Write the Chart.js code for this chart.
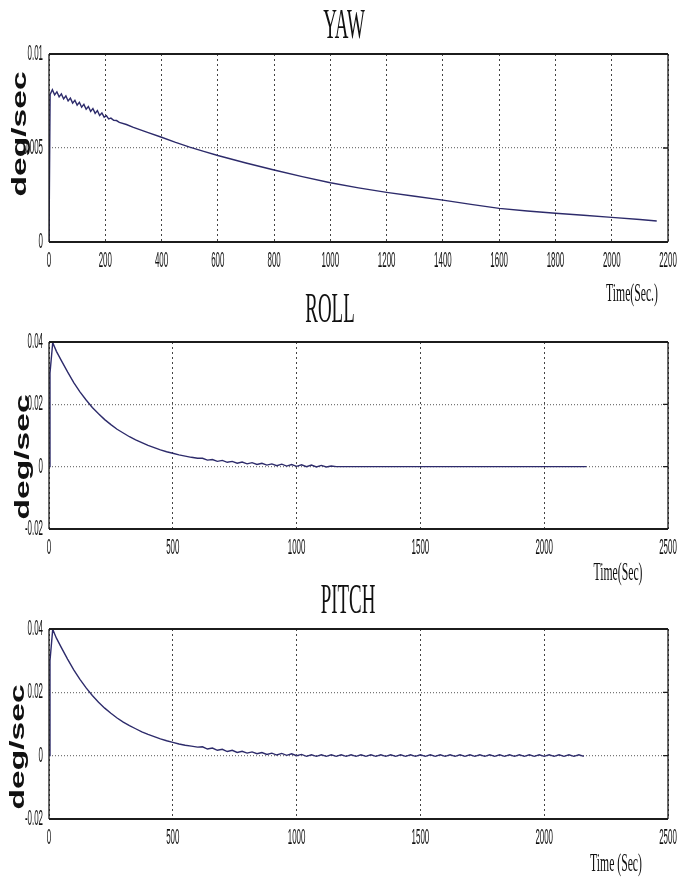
<!DOCTYPE html>
<html>
<head>
<meta charset="utf-8">
<title>YAW / ROLL / PITCH</title>
<script src="https://cdn.jsdelivr.net/npm/chart.js@4.4.1/dist/chart.umd.min.js"></script>
<style>
  body { margin: 0; background: #fff; }
  #wrap { position: relative; width: 678px; height: 879px; }
  #wrap canvas { position: absolute; left: 0; }
</style>
</head>
<body>
<div id="wrap">
  <canvas id="yaw" width="678" height="310" style="top:0px"></canvas>
  <canvas id="roll" width="678" height="300" style="top:290px"></canvas>
  <canvas id="pitch" width="678" height="299" style="top:580px"></canvas>
</div>
<script>
// YAW rate (deg/sec) against time (sec)
const yawTime = [0, 4, 12, 20, 28, 36, 44, 52, 60, 68, 76, 84, 92, 100, 108, 116, 124, 132, 140, 148,
  156, 164, 172, 180, 188, 196, 204, 212, 220, 230, 240, 250, 275, 300, 350, 400, 450, 500, 550, 600,
  700, 800, 900, 1000, 1100, 1200, 1300, 1400, 1500, 1600, 1700, 1800, 1900, 2000, 2100, 2160];
const yawRate = [0, 0.00785, 0.0081, 0.00783, 0.00799, 0.00772, 0.00788, 0.00761, 0.00777, 0.0075,
  0.00765, 0.00739, 0.00754, 0.00728, 0.00743, 0.00717, 0.00732, 0.00706, 0.00721, 0.00695,
  0.0071, 0.00684, 0.00699, 0.00673, 0.00686, 0.00664, 0.00672, 0.00655, 0.00659, 0.00647,
  0.00646, 0.00636, 0.00625, 0.0061, 0.00583, 0.00557, 0.0053, 0.00505, 0.00482, 0.0046,
  0.0042, 0.00383, 0.00348, 0.00315, 0.00288, 0.00264, 0.00243, 0.00223, 0.002, 0.00179,
  0.00165, 0.00153, 0.00142, 0.00131, 0.0012, 0.00112];

// ROLL
const rollTime = [0, 4, 15, 30, 50, 75, 100, 125, 150, 175, 200, 225, 250, 275, 300, 325, 350, 375, 400, 425,
  450, 475, 500, 525, 550, 575, 600, 620, 640, 660, 680, 700, 720, 740, 760, 780, 800, 820, 840, 860,
  880, 900, 920, 940, 960, 980, 1000, 1020, 1040, 1060, 1080, 1100, 1120, 1140, 1160, 1200, 2170];
const rollRate = [0, 0.03, 0.0398, 0.037, 0.034, 0.0304, 0.027, 0.024, 0.0214, 0.019,
  0.017, 0.0151, 0.0135, 0.012, 0.0108, 0.0096, 0.0086, 0.0077, 0.0068, 0.0061,
  0.0054, 0.0048, 0.0043, 0.0038, 0.0034, 0.003, 0.0027, 0.0027, 0.0021, 0.0023,
  0.0017, 0.002, 0.0014, 0.0017, 0.0011, 0.0015, 0.0009, 0.0013, 0.0007, 0.0011,
  0.0005, 0.0009, 0.0003, 0.0008, 0.0002, 0.0007, 0.0001, 0.0006, 0, 0.0005,
  -0.0001, 0.0004, -0.0001, 0.0002, 0, 0, 0];

// PITCH
const pitchTime = [0, 4, 15, 30, 50, 75, 100, 125, 150, 175, 200, 225, 250, 275, 300, 325, 350, 375, 400, 425,
  450, 475, 500, 525, 550, 575, 600, 620, 640, 660, 680, 700, 720, 740, 760, 780, 800, 820, 840, 860,
  880, 900, 920, 940, 960, 980, 1000, 1020,
  1040, 1060, 1080, 1100, 1120, 1140, 1160, 1180, 1200, 1220,
  1240, 1260, 1280, 1300, 1320, 1340, 1360, 1380, 1400, 1420,
  1440, 1460, 1480, 1500, 1520, 1540, 1560, 1580, 1600, 1620,
  1640, 1660, 1680, 1700, 1720, 1740, 1760, 1780, 1800, 1820,
  1840, 1860, 1880, 1900, 1920, 1940, 1960, 1980, 2000, 2020,
  2040, 2060, 2080, 2100, 2120, 2140, 2160];
const pitchRate = [0, 0.03, 0.0399, 0.0371, 0.0341, 0.0305, 0.0271, 0.0241, 0.0214, 0.019,
  0.0169, 0.015, 0.0134, 0.0119, 0.0106, 0.0095, 0.0085, 0.0075, 0.0067, 0.006,
  0.0053, 0.0047, 0.0042, 0.0037, 0.0033, 0.003, 0.0027, 0.0028, 0.0021, 0.0024,
  0.0017, 0.002, 0.0013, 0.0017, 0.001, 0.0014, 0.0008, 0.0012, 0.0006, 0.001,
  0.0004, 0.0008, 0.0002, 0.0007, 0.0001, 0.0006, 0, 0.0004,
  -0.0002, 0.0003, -0.0002, 0.0003, -0.0002, 0.0003, -0.0002, 0.0003, -0.0002, 0.0003,
  -0.0002, 0.0003, -0.0002, 0.0003, -0.0002, 0.0003, -0.0002, 0.0003, -0.0002, 0.0003,
  -0.0002, 0.0003, -0.0002, 0.0003, -0.0002, 0.0003, -0.0002, 0.0003, -0.0002, 0.0003,
  -0.0002, 0.0003, -0.0002, 0.0003, -0.0002, 0.0003, -0.0002, 0.0003, -0.0002, 0.0003,
  -0.0002, 0.0003, -0.0002, 0.0003, -0.0002, 0.0003, -0.0002, 0.0003, -0.0002, 0.0003,
  -0.0002, 0.0003, -0.0002, 0.0003, -0.0002, 0.0003, -0.0002];

// tick values
const yawXTicks = [0, 200, 400, 600, 800, 1000, 1200, 1400, 1600, 1800, 2000, 2200];
const yawYTicks = [0, 0.005, 0.01];
const attXTicks = [0, 500, 1000, 1500, 2000, 2500];
const attYTicks = [-0.02, 0, 0.02, 0.04];

const lineColor = "#2d2b6b";

// draws text squeezed/stretched like the scanned figure
function squishText(ctx, text, x, y, font, sx, align, baseline, angle) {
  ctx.save();
  ctx.translate(x, y);
  if (angle) ctx.rotate(angle);
  ctx.scale(sx, 1);
  ctx.font = font;
  ctx.fillStyle = "#111";
  ctx.textAlign = align;
  ctx.textBaseline = baseline;
  ctx.fillText(text, 0, 0);
  ctx.restore();
}

const framePlugin = {
  id: "frame",
  afterDraw(chart, args, o) {
    const { ctx, chartArea: a, scales } = chart;
    ctx.save();
    ctx.strokeStyle = "#1c1c1c";
    ctx.lineWidth = 2;
    ctx.beginPath();
    ctx.moveTo(a.left, a.top); ctx.lineTo(a.right, a.top);
    ctx.moveTo(a.left, a.bottom); ctx.lineTo(a.right, a.bottom);
    ctx.stroke();
    ctx.lineWidth = 1.3;
    ctx.beginPath();
    ctx.moveTo(a.left, a.top); ctx.lineTo(a.left, a.bottom);
    ctx.moveTo(a.right, a.top); ctx.lineTo(a.right, a.bottom);
    // small inside ticks on the right edge
    scales.y.ticks.forEach((t) => {
      const py = scales.y.getPixelForValue(t.value);
      ctx.moveTo(a.right - 5, py); ctx.lineTo(a.right, py);
    });
    ctx.stroke();
    ctx.restore();

    const tickFont = '22px "Liberation Sans", Arial, sans-serif';
    scales.x.ticks.forEach((t) => {
      squishText(ctx, t.label, scales.x.getPixelForValue(t.value), a.bottom + 19, tickFont, 0.36, "center", "middle");
    });
    scales.y.ticks.forEach((t) => {
      squishText(ctx, t.label, a.left - 6, scales.y.getPixelForValue(t.value), tickFont, 0.36, "right", "middle");
    });

    squishText(ctx, o.title, o.titleX, o.titleY, '42px "Liberation Serif", "Times New Roman", serif', 0.45, "center", "alphabetic");
    squishText(ctx, o.xTitle, o.xTitleX, o.xTitleY, '26px "Liberation Serif", "Times New Roman", serif', 0.45, "center", "alphabetic");
    squishText(ctx, "deg/sec", o.yTitleX, o.yTitleY, 'bold 21px "Liberation Sans", Arial, sans-serif', 1.6, "center", "middle", -Math.PI / 2);
  }
};

function makeChart(id, time, rate, xTicks, yTicks, look) {
  const points = time.map((t, i) => ({ x: t, y: rate[i] }));
  return new Chart(document.getElementById(id), {
    type: "line",
    data: {
      datasets: [{
        data: points,
        borderColor: lineColor,
        borderWidth: 1.4,
        pointRadius: 0,
        tension: 0,
        fill: false
      }]
    },
    options: {
      responsive: false,
      animation: false,
      events: [],
      layout: { padding: { top: look.top, right: 10, left: 0, bottom: 0 } },
      plugins: {
        legend: { display: false },
        tooltip: { enabled: false },
        frame: look
      },
      scales: {
        x: {
          type: "linear",
          min: xTicks[0],
          max: xTicks[xTicks.length - 1],
          afterBuildTicks: (s) => { s.ticks = xTicks.map((v) => ({ value: v })); },
          afterFit: (s) => { s.height = look.height - look.bottom; s.paddingLeft = 0; s.paddingRight = 0; },
          ticks: { display: false, callback: (v) => String(v) },
          grid: { color: "#444", lineWidth: 1, drawTicks: false },
          border: { display: false, dash: [2, 3] }
        },
        y: {
          min: yTicks[0],
          max: yTicks[yTicks.length - 1],
          afterBuildTicks: (s) => { s.ticks = yTicks.map((v) => ({ value: v })); },
          afterFit: (s) => { s.width = 49; s.paddingTop = 0; s.paddingBottom = 0; },
          ticks: { display: false, callback: (v) => String(v) },
          grid: { color: "#777", lineWidth: 1.2, drawTicks: false },
          border: { display: false, dash: [1, 2] }
        }
      }
    },
    plugins: [framePlugin]
  });
}

makeChart("yaw", yawTime, yawRate, yawXTicks, yawYTicks, {
  height: 310, top: 54, bottom: 242,
  title: "YAW", titleX: 344, titleY: 38,
  xTitle: "Time(Sec.)", xTitleX: 632, xTitleY: 301,
  yTitleX: 20, yTitleY: 134
});

makeChart("roll", rollTime, rollRate, attXTicks, attYTicks, {
  height: 300, top: 52, bottom: 239,
  title: "ROLL", titleX: 330, titleY: 32,
  xTitle: "Time(Sec)", xTitleX: 618, xTitleY: 290,
  yTitleX: 23, yTitleY: 167
});

makeChart("pitch", pitchTime, pitchRate, attXTicks, attYTicks, {
  height: 299, top: 49, bottom: 239,
  title: "PITCH", titleX: 348, titleY: 33,
  xTitle: "Time (Sec)", xTitleX: 616, xTitleY: 291,
  yTitleX: 18, yTitleY: 167
});
</script>
</body>
</html>
